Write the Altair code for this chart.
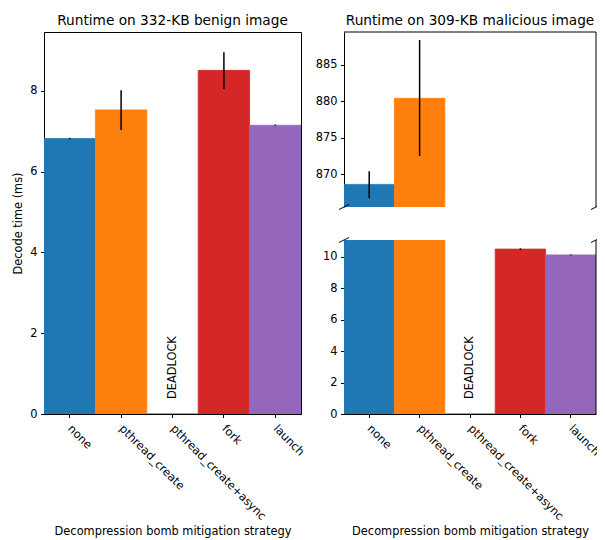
import altair as alt
import pandas as pd

strategies = ["none", "pthread_create", "pthread_create+async", "fork", "launch"]
colors = ["#1f77b4", "#ff7f0e", "#2ca02c", "#d62728", "#9467bd"]

benign_mean = [6.82, 7.53, 0.0, 8.51, 7.15]
benign_lo = [6.80, 7.03, None, 8.05, 7.14]
benign_hi = [6.84, 8.02, None, 8.96, 7.17]

mal_mean = [868.6, 880.4, 0.0, 10.50, 10.13]
mal_lo = [866.7, 872.5, None, 10.45, 10.10]
mal_hi = [870.4, 888.4, None, 10.55, 10.16]

deadlock_label = "DEADLOCK"
deadlock_y_benign = 0.37
deadlock_y_mal = 0.95

benign_ticks = [0, 2, 4, 6, 8]
mal_top_ticks = [870, 875, 880, 885]
mal_bottom_ticks = [0, 2, 4, 6, 8, 10]

benign_domain = [0, 9.46]
mal_top_domain = [865.5, 889.5]
mal_bottom_domain = [0, 11.08]

W_L = 257
W_R = 252
H_LEFT = 382
H_TOP = 175
H_BOT = 174
LF = 11.4
TF = 13.7

df_b = pd.DataFrame({"strategy": strategies, "mean": benign_mean, "lo": benign_lo, "hi": benign_hi})
df_m = pd.DataFrame({"strategy": strategies, "mean": mal_mean, "lo": mal_lo, "hi": mal_hi})
err_b = df_b.dropna()
err_m = df_m.dropna()
dl_b = pd.DataFrame({"strategy": [strategies[2]], "y": [deadlock_y_benign], "t": [deadlock_label]})
dl_m = pd.DataFrame({"strategy": [strategies[2]], "y": [deadlock_y_mal], "t": [deadlock_label]})
one = pd.DataFrame({"k": [0]})

xscale = alt.Scale(domain=strategies, paddingInner=0, paddingOuter=0)
color_scale = alt.Scale(domain=strategies, range=colors)


def xaxis():
    return alt.Axis(title="Decompression bomb mitigation strategy", labelAngle=45,
                    labelAlign="left", labelBaseline="top", labelPadding=5, labelOffset=4,
                    titlePadding=4)


def panel(df, err, dom, ticks, show_x, ytitle, dl=None):
    ysc = alt.Scale(domain=dom, nice=False, zero=False)
    yax = alt.Axis(title=ytitle, values=ticks, labelOverlap=False, titlePadding=6)
    xax = xaxis() if show_x else None
    xe = alt.X("strategy:N", sort=strategies, scale=xscale, axis=xax)
    bars = alt.Chart(df).mark_bar(clip=True, strokeWidth=0.8).encode(
        x=xe, y=alt.Y("mean:Q", scale=ysc, axis=yax),
        color=alt.Color("strategy:N", scale=color_scale, legend=None),
        stroke=alt.Stroke("strategy:N", scale=color_scale, legend=None))
    er = alt.Chart(err).mark_rule(color="black", strokeWidth=1.5, clip=True).encode(
        x=xe, y=alt.Y("lo:Q", scale=ysc, axis=yax), y2="hi:Q")
    layers = [bars, er]
    if dl is not None:
        txt = alt.Chart(dl).mark_text(angle=270, align="left", baseline="middle",
                                      fontSize=LF, font="DejaVu Sans", color="black").encode(
            x=xe, y=alt.Y("y:Q", scale=ysc, axis=yax), text="t:N")
        layers.append(txt)
    return layers


def rule(**kw):
    return alt.Chart(one).mark_rule(color="black", strokeWidth=1).encode(
        **{k: alt.value(v) for k, v in kw.items()})


def title(text):
    return alt.TitleParams(text, fontSize=TF, fontWeight="normal", font="DejaVu Sans",
                           offset=4, color="black")


left = alt.layer(*panel(df_b, err_b, benign_domain, benign_ticks, True, "Decode time (ms)", dl_b)).properties(
    width=W_L, height=H_LEFT, title=title("Runtime on 332-KB benign image"),
    view=alt.ViewBackground(stroke="black", strokeWidth=1))

top_layers = panel(df_m, err_m, mal_top_domain, mal_top_ticks, False, None)
top_layers += [
    rule(x=0, x2=W_R, y=0),
    rule(x=W_R, y=0, y2=H_TOP),
    rule(x=-5, x2=5, y=H_TOP + 2.5, y2=H_TOP - 2.5),
    rule(x=W_R - 5, x2=W_R + 5, y=H_TOP + 2.5, y2=H_TOP - 2.5),
]
top = alt.layer(*top_layers).properties(
    width=W_R, height=H_TOP, title=title("Runtime on 309-KB malicious image"))

bot_layers = panel(df_m, err_m, mal_bottom_domain, mal_bottom_ticks, True, None, dl_m)
bot_layers += [
    rule(x=W_R, y=0, y2=H_BOT),
    rule(x=-5, x2=5, y=2.5, y2=-2.5),
    rule(x=W_R - 5, x2=W_R + 5, y=2.5, y2=-2.5),
]
bot = alt.layer(*bot_layers).properties(width=W_R, height=H_BOT)

right = alt.vconcat(top, bot, spacing=33, bounds="flush")

chart = alt.hconcat(left, right, spacing=43, bounds="flush").properties(
    autosize=alt.AutoSizeParams(type="none"),
    padding={"left": 36, "top": 24, "right": 553, "bottom": 508},
).configure_view(stroke=None).configure_axis(
    labelFont="DejaVu Sans", titleFont="DejaVu Sans", labelFontSize=LF, titleFontSize=LF,
    titleFontWeight="normal", labelColor="black", titleColor="black",
    domainColor="black", tickColor="black", tickSize=3.5, labelPadding=3.5, grid=False,
    labelOverlap=False,
)

chart.save("out.html", embed_options={"renderer": "svg", "actions": False})
